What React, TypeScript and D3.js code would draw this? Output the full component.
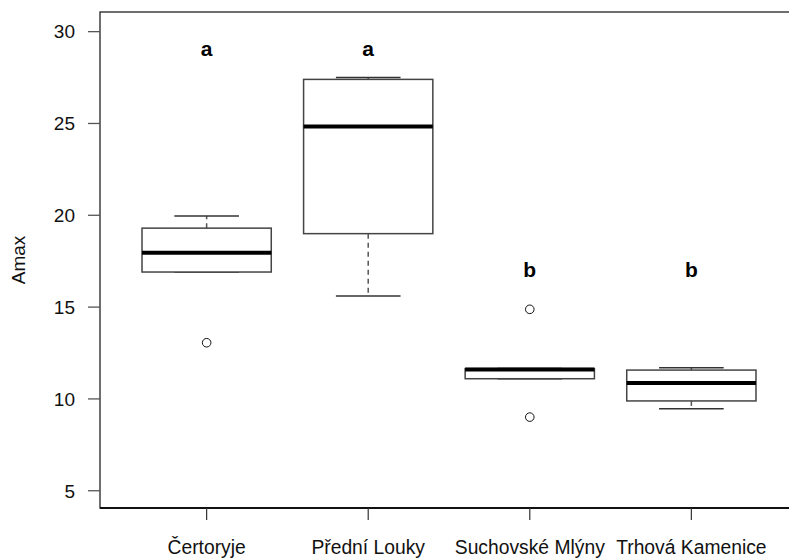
import React from "react";
import * as d3 from "d3";

const categories = ["Čertoryje", "Přední Louky", "Suchovské Mlýny", "Trhová Kamenice"];
const whiskerLow = [16.91, 15.6, 11.1, 9.47];
const q1 = [16.91, 19.0, 11.1, 9.89];
const medians = [17.96, 24.83, 11.6, 10.87];
const q3 = [19.3, 27.4, 11.65, 11.57];
const whiskerHigh = [19.96, 27.5, 11.65, 11.7];
const outliers: number[][] = [[13.06], [], [14.88, 9.01], []];
const groupLetters = ["a", "a", "b", "b"];
const letterValues = [29, 29, 17, 17];
const yTicks = [5, 10, 15, 20, 25, 30];

const W = 789;
const H = 560;
const left = 100;
const right = 798;
const top = 12;
const bottom = 508;

export default function App() {
  const x = d3.scaleLinear().domain([0.34, 4.66]).range([left, right]);
  const y = d3.scaleLinear().domain([4.06, 31.07]).range([bottom, top]);
  const boxHalf = x(1.4) - x(1);
  const capHalf = x(1.2) - x(1);
  const font = "'Liberation Sans', Arial, Helvetica, sans-serif";
  const boxStroke = "#444";

  return (
    <svg
      width={W}
      height={H}
      style={{ position: "absolute", left: 0, top: 0, display: "block", background: "#fff" }}
      fontFamily={font}
    >
      <rect x={0} y={0} width={W} height={H} fill="#fff" />
      {/* plot frame */}
      <rect x={left} y={top} width={right - left} height={bottom - top} fill="none" stroke="#222" strokeWidth={1.3} />
      <line x1={left} x2={right} y1={bottom} y2={bottom} stroke="#111" strokeWidth={1.8} />

      {/* y axis ticks */}
      {yTicks.map((t) => (
        <g key={t}>
          <line x1={left - 12} x2={left} y1={y(t)} y2={y(t)} stroke="#555" strokeWidth={1.3} />
          <text x={left - 25} y={y(t)} dy="0.36em" textAnchor="end" fontSize={19} fill="#111">
            {t}
          </text>
        </g>
      ))}
      <text
        transform={`translate(${25},${(top + bottom) / 2}) rotate(-90)`}
        textAnchor="middle"
        fontSize={19}
        fill="#111"
      >
        Amax
      </text>

      {/* x axis ticks */}
      {categories.map((c, i) => (
        <g key={c}>
          <line x1={x(i + 1)} x2={x(i + 1)} y1={bottom} y2={bottom + 12} stroke="#333" strokeWidth={1.2} />
          <text x={x(i + 1)} y={554} textAnchor="middle" fontSize={19.3} fill="#111">
            {c}
          </text>
        </g>
      ))}

      {/* boxes */}
      {categories.map((c, i) => {
        const cx = x(i + 1);
        return (
          <g key={"box" + c}>
            <line x1={cx} x2={cx} y1={y(q3[i])} y2={y(whiskerHigh[i])} stroke="#555" strokeWidth={1.5} strokeDasharray="5,4" />
            <line x1={cx} x2={cx} y1={y(q1[i])} y2={y(whiskerLow[i])} stroke="#555" strokeWidth={1.5} strokeDasharray="5,4" />
            <line x1={cx - capHalf} x2={cx + capHalf} y1={y(whiskerHigh[i])} y2={y(whiskerHigh[i])} stroke="#333" strokeWidth={1.5} />
            <line x1={cx - capHalf} x2={cx + capHalf} y1={y(whiskerLow[i])} y2={y(whiskerLow[i])} stroke="#333" strokeWidth={1.5} />
            <rect
              x={cx - boxHalf}
              y={y(q3[i])}
              width={boxHalf * 2}
              height={y(q1[i]) - y(q3[i])}
              fill="#fff"
              stroke={boxStroke}
              strokeWidth={1.5}
            />
            <line x1={cx - boxHalf} x2={cx + boxHalf} y1={y(medians[i])} y2={y(medians[i])} stroke="#000" strokeWidth={4} />
            {outliers[i].map((v, k) => (
              <circle key={k} cx={cx} cy={y(v)} r={4.3} fill="none" stroke="#111" strokeWidth={1} />
            ))}
            <text x={cx} y={y(letterValues[i])} dy="0.3em" textAnchor="middle" fontSize={21} fontWeight="bold" fill="#000">
              {groupLetters[i]}
            </text>
          </g>
        );
      })}
    </svg>
  );
}
